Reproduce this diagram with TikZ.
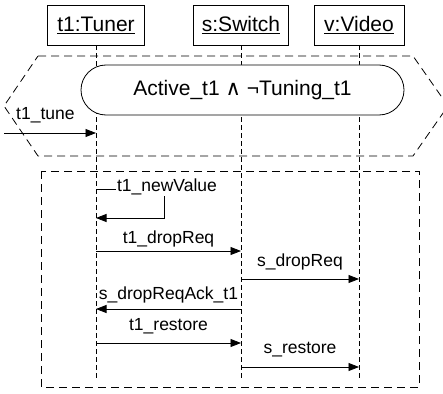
\documentclass[tikz,border=0pt]{standalone}
\usepackage{fontspec}
\setmainfont{Liberation Sans}
\newfontfamily\symfont{DejaVu Sans}
\usetikzlibrary{arrows.meta}

\begin{document}
\begin{tikzpicture}[x=1pt,y=-1pt,
  objbox/.style={draw, line width=0.8pt, minimum height=40pt, inner sep=0pt,
    font=\fontsize{21}{24}\selectfont},
  lifeline/.style={line width=0.7pt, dash pattern=on 5pt off 3pt},
  framedash/.style={line width=0.8pt, dash pattern=on 8pt off 5pt},
  msg/.style={line width=0.8pt, -{Triangle[length=10.5pt,width=8pt]}},
  lbl/.style={font=\fontsize{17.5}{20}\selectfont, inner sep=0pt, anchor=base},
  condbox/.style={draw, fill=white, line width=0.8pt, rectangle,
    rounded corners=25pt, minimum width=323pt, minimum height=50pt,
    font=\fontsize{21}{24}\selectfont}]
\useasboundingbox (0,0) rectangle (443,393);
\clip (0,0) rectangle (443,393);

% objects
\node[objbox, minimum width=97pt] (t1) at (96,25) {\underline{t1:Tuner}};
\node[objbox, minimum width=95pt] (s)  at (241,25) {\underline{s:Switch}};
\node[objbox, minimum width=90pt] (v)  at (359,25) {\underline{v:Video}};

% event rows
\coordinate (lifeEnd) at (0,378);
\coordinate (eTune) at (0,133);
\coordinate (eNewA) at (0,189);
\coordinate (eNewB) at (0,218);
\coordinate (eDrop) at (0,251);
\coordinate (eSDrop) at (0,279);
\coordinate (eAck) at (0,309);
\coordinate (eRest) at (0,343);
\coordinate (eSRest) at (0,367);
\coordinate (tuneStart) at (4,133);
\coordinate (selfTurn) at (164,0);

% lifelines
\draw[lifeline] (t1.south) -- (t1.south |- lifeEnd);
\draw[lifeline] (s.south) -- (s.south |- lifeEnd);
\draw[lifeline] (v.south) -- (v.south |- lifeEnd);

% state region
\draw[framedash] (38,56) -- (413,56) -- (448,106) -- (413,156) -- (38,156) -- (4,106) -- cycle;
\node[condbox] (cond) at (242.5,90) {Active\_t1 {\symfont ∧} ¬Tuning\_t1};

% interaction region
\draw[framedash] (41,171) rectangle (419,387);

% messages
\draw[msg] (tuneStart) -- (t1.south |- eTune)
  node[lbl, pos=0.45, yshift=14pt] {t1\_tune};

\draw[msg] (t1.south |- eNewA) -- (selfTurn |- eNewA) -- (selfTurn |- eNewB) -- (t1.south |- eNewB);
\node[lbl, fill=white, inner sep=1.5pt] (newv) at (167,191) {t1\_newValue};

\draw[msg] (t1.south |- eDrop) -- (s.south |- eDrop)
  node[lbl, midway, yshift=8pt] {t1\_dropReq};
\draw[msg] (s.south |- eSDrop) -- (v.south |- eSDrop)
  node[lbl, midway, yshift=13pt] {s\_dropReq};
\draw[msg] (s.south |- eAck) -- (t1.south |- eAck)
  node[lbl, midway, yshift=10pt] {s\_dropReqAck\_t1};
\draw[msg] (t1.south |- eRest) -- (s.south |- eRest)
  node[lbl, midway, yshift=13pt] {t1\_restore};
\draw[msg] (s.south |- eSRest) -- (v.south |- eSRest)
  node[lbl, midway, yshift=14pt] {s\_restore};
\end{tikzpicture}
\end{document}
